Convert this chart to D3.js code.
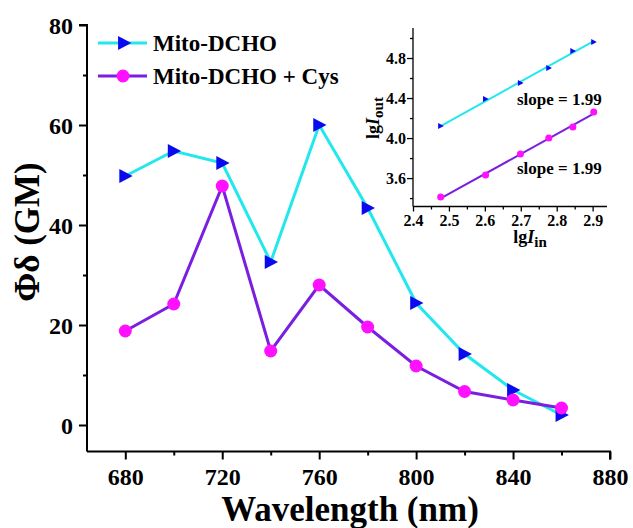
<!DOCTYPE html>
<html>
<head>
<meta charset="utf-8">
<script src="https://cdn.jsdelivr.net/npm/d3@7/dist/d3.min.js"></script>
<style>
  html, body { margin: 0; padding: 0; background: #fff; }
</style>
</head>
<body>
<svg id="chart" width="633" height="528" font-family="Liberation Serif" font-weight="bold"></svg>
<script>
// Two-photon action cross-section versus excitation wavelength
const wavelengths = [680, 700, 720, 740, 760, 780, 800, 820, 840, 860];
const probeValues = [49.8, 54.8, 52.4, 32.6, 60.0, 43.4, 24.4, 14.2, 7.0, 2.0];
const cysValues   = [18.8, 24.2, 47.8, 14.8, 28.0, 19.6, 11.8, 6.7, 5.0, 3.4];
const seriesNames = ["Mito-DCHO", "Mito-DCHO + Cys"];
const xTicks = [680, 720, 760, 800, 840, 880];
const yTicks = [0, 20, 40, 60, 80];

// Inset: log output intensity vs log input power
const lgIn       = [2.477, 2.602, 2.699, 2.778, 2.845, 2.903];
const lgOutProbe = [4.12, 4.39, 4.55, 4.70, 4.87, 4.96];
const lgOutCys   = [3.41, 3.63, 3.84, 4.00, 4.11, 4.26];
const fitSlopes  = [1.99, 1.99];
const insetXTicks = [2.4, 2.5, 2.6, 2.7, 2.8, 2.9];
const insetYTicks = [3.6, 4.0, 4.4, 4.8];

const colors = { line1: "#22e8ee", mark1: "#0a0aee", line2: "#7a1fe0", mark2: "#ff10ff" };
const FONT = "Liberation Serif";

const svg = d3.select("#chart");
const isIn = (arr, v) => arr.some(t => Math.abs(t - v) < 1e-6);

// Right-pointing triangle centred on the origin
function triPath(s) {
  const h = s / 2;
  return `M${-h * 0.85},${-h}L${h * 1.05},0L${-h * 0.85},${h}Z`;
}

function styleAxis(g, w) {
  g.attr("font-family", FONT).attr("font-size", null);
  g.select(".domain").attr("stroke", "#000").attr("stroke-width", w);
  g.selectAll(".tick line").attr("stroke", "#000").attr("stroke-width", w);
}

// ---------- main plot ----------
const x = d3.scaleLinear().domain([664.2, 880]).range([87, 610]);
const y = d3.scaleLinear().domain([-5.3, 80]).range([451.5, 25]);

const gx = svg.append("g").attr("transform", `translate(0,${y.range()[0]})`);
gx.call(d3.axisBottom(x).tickValues(d3.range(680, 881, 20)).tickSize(8).tickFormat(""));
gx.selectAll(".tick").filter(d => !isIn(xTicks, d)).select("line").attr("y2", 4);
gx.selectAll(".tick").filter(d => isIn(xTicks, d)).append("text")
  .attr("y", 33).attr("text-anchor", "middle").attr("fill", "#000")
  .attr("font-size", 24).text(d => d);

const gy = svg.append("g").attr("transform", `translate(${x.range()[0]},0)`);
gy.call(d3.axisLeft(y).tickValues(d3.range(0, 81, 10)).tickSize(8).tickFormat(""));
gy.selectAll(".tick").filter(d => !isIn(yTicks, d)).select("line").attr("x2", -4);
gy.selectAll(".tick").filter(d => isIn(yTicks, d)).append("text")
  .attr("x", -14).attr("dy", "0.34em").attr("text-anchor", "end").attr("fill", "#000")
  .attr("font-size", 24).text(d => d);

styleAxis(gx, 2);
styleAxis(gy, 2);
gx.select(".domain").attr("d", `M${x.range()[0]},0H${x.range()[1]}V8`);
gy.select(".domain").attr("d", `M-8,${y(80)}H0V${y.range()[0]}`);

svg.append("text").attr("x", 350).attr("y", 521).attr("text-anchor", "middle")
  .attr("font-size", 35).text("Wavelength (nm)");
svg.append("text").attr("transform", "translate(39,232) rotate(-90)").attr("text-anchor", "middle")
  .attr("font-size", 35).text("Φδ (GM)");

const line = d3.line().x((d, i) => x(wavelengths[i])).y(d => y(d));

svg.append("path").datum(probeValues).attr("d", line)
  .attr("fill", "none").attr("stroke", colors.line1).attr("stroke-width", 3);
svg.selectAll(".tri").data(probeValues).join("path")
  .attr("transform", (d, i) => `translate(${x(wavelengths[i])},${y(d)})`)
  .attr("d", triPath(14)).attr("fill", colors.mark1);

svg.append("path").datum(cysValues).attr("d", line)
  .attr("fill", "none").attr("stroke", colors.line2).attr("stroke-width", 3);
svg.selectAll(".dot").data(cysValues).join("circle")
  .attr("cx", (d, i) => x(wavelengths[i])).attr("cy", d => y(d)).attr("r", 6.5)
  .attr("fill", colors.mark2);

// legend
const legend = svg.append("g");
seriesNames.forEach((name, i) => {
  const ly = 43 + i * 33;
  legend.append("line").attr("x1", 98).attr("x2", 147).attr("y1", ly).attr("y2", ly)
    .attr("stroke", i ? colors.line2 : colors.line1).attr("stroke-width", 3);
  if (i) legend.append("circle").attr("cx", 123).attr("cy", ly).attr("r", 6.5).attr("fill", colors.mark2);
  else legend.append("path").attr("transform", `translate(124,${ly})`).attr("d", triPath(14)).attr("fill", colors.mark1);
  legend.append("text").attr("x", 153).attr("y", ly + 8).attr("font-size", 23).text(name);
});

// ---------- inset ----------
const ix = d3.scaleLinear().domain([2.4, 2.94]).range([413, 607]);
const iy = d3.scaleLinear().domain([3.316, 5.1]).range([206.5, 28]);

const igx = svg.append("g").attr("transform", `translate(0,${iy.range()[0]})`);
igx.call(d3.axisBottom(ix).tickValues(d3.range(0, 11).map(k => 2.4 + k * 0.05)).tickSize(5).tickFormat(""));
igx.selectAll(".tick").filter(d => !isIn(insetXTicks, d)).select("line").attr("y2", 3);
igx.selectAll(".tick").filter(d => isIn(insetXTicks, d)).append("text")
  .attr("y", 19).attr("text-anchor", "middle").attr("fill", "#000")
  .attr("font-size", 16).text(d => d.toFixed(1));

const igy = svg.append("g").attr("transform", `translate(${ix.range()[0]},0)`);
igy.call(d3.axisLeft(iy).tickValues(d3.range(0, 9).map(k => 3.4 + k * 0.2)).tickSize(3).tickFormat(""));
igy.selectAll(".tick").filter(d => isIn(insetYTicks, d)).each(function (d) {
  const g = d3.select(this);
  g.select("line").attr("x2", -6);
  g.append("text").attr("x", -7).attr("dy", "0.34em").attr("text-anchor", "end").attr("fill", "#000")
    .attr("font-size", 16).text(d.toFixed(1));
});

styleAxis(igx, 1.3);
styleAxis(igy, 1.3);
igx.select(".domain").attr("d", `M${ix.range()[0]},0H${ix.range()[1]}`);
igy.select(".domain").attr("d", `M0,${iy.range()[1]}V${iy.range()[0]}`);

// linear fits with the stated slope, passing through the data centroid
const fitLine = (ys, slope) => {
  const mx = d3.mean(lgIn), my = d3.mean(ys);
  const x0 = lgIn[0], x1 = lgIn[lgIn.length - 1];
  return [[x0, my + slope * (x0 - mx)], [x1, my + slope * (x1 - mx)]];
};
const iline = d3.line().x(d => ix(d[0])).y(d => iy(d[1]));

svg.append("path").attr("d", iline(fitLine(lgOutProbe, fitSlopes[0])))
  .attr("fill", "none").attr("stroke", colors.line1).attr("stroke-width", 2);
svg.selectAll(".itri").data(lgOutProbe).join("path")
  .attr("transform", (d, i) => `translate(${ix(lgIn[i])},${iy(d)})`)
  .attr("d", triPath(6)).attr("fill", colors.mark1);

svg.append("path").attr("d", iline(fitLine(lgOutCys, fitSlopes[1])))
  .attr("fill", "none").attr("stroke", colors.line2).attr("stroke-width", 2);
svg.selectAll(".idot").data(lgOutCys).join("circle")
  .attr("cx", (d, i) => ix(lgIn[i])).attr("cy", d => iy(d)).attr("r", 3.5)
  .attr("fill", colors.mark2);

svg.append("text").attr("x", 517).attr("y", 105).attr("font-size", 17).text(`slope = ${fitSlopes[0].toFixed(2)}`);
svg.append("text").attr("x", 517).attr("y", 174).attr("font-size", 17).text(`slope = ${fitSlopes[1].toFixed(2)}`);

const xl = svg.append("text").attr("x", 530).attr("y", 243).attr("text-anchor", "middle").attr("font-size", 18);
xl.append("tspan").text("lg");
xl.append("tspan").attr("font-style", "italic").text("I");
xl.append("tspan").attr("dy", 4).attr("font-size", 15).text("in");

const yl = svg.append("text").attr("transform", "translate(379,118) rotate(-90)").attr("text-anchor", "middle").attr("font-size", 18);
yl.append("tspan").text("lg");
yl.append("tspan").attr("font-style", "italic").text("I");
yl.append("tspan").attr("dy", 4).attr("font-size", 15).text("out");
</script>
</body>
</html>
